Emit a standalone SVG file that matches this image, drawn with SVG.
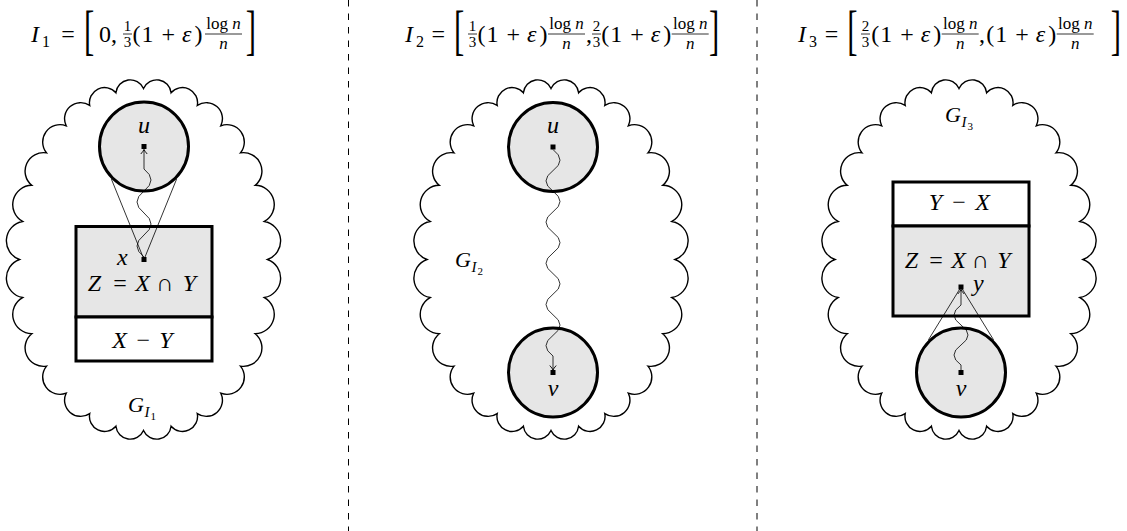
<svg xmlns="http://www.w3.org/2000/svg" width="1127" height="531" viewBox="0 0 1127 531">
<style>
.t{font-family:"Liberation Serif","DejaVu Serif",serif;fill:#000}
.i{font-style:italic}
.f{font-size:24px}
.br{font-size:22px}
.s{font-size:16px}
.q{font-size:17px}
.r{font-size:15px}
.l{font-size:24px}
.gl{font-size:22px}
.g1{font-size:15px}
.g2{font-size:11px}
.cloud{fill:none;stroke:#000;stroke-width:1.4}
.nd{fill:#e6e6e6;stroke:#000;stroke-width:3}
.nw{fill:#fff;stroke:#000;stroke-width:3}
.pt{fill:#000}
.thin{fill:none;stroke:#000;stroke-width:0.8}
.snake{fill:none;stroke:#000;stroke-width:0.8;marker-end:url(#arr)}
.bar{stroke:#000;stroke-width:0.8}
.div{stroke:#000;stroke-width:1;stroke-dasharray:6.5 7}
</style>
<defs>
<path id="cloudshape" d="M124,0 A19.76,19.76 0 0 1 120.89,38.05 A19.3,19.3 0 0 1 111.72,74.19 A18.45,18.45 0 0 1 96.95,106.62 A17.31,17.31 0 0 1 77.31,133.69 A16.1,16.1 0 0 1 53.8,154.07 A15.06,15.06 0 0 1 27.59,166.71 A14.45,14.45 0 0 1 0,171 A14.45,14.45 0 0 1 -27.59,166.71 A15.06,15.06 0 0 1 -53.8,154.07 A16.1,16.1 0 0 1 -77.31,133.69 A17.31,17.31 0 0 1 -96.95,106.62 A18.45,18.45 0 0 1 -111.72,74.19 A19.3,19.3 0 0 1 -120.89,38.05 A19.76,19.76 0 0 1 -124,0 A19.76,19.76 0 0 1 -120.89,-38.05 A19.3,19.3 0 0 1 -111.72,-74.19 A18.45,18.45 0 0 1 -96.95,-106.62 A17.31,17.31 0 0 1 -77.31,-133.69 A16.1,16.1 0 0 1 -53.8,-154.07 A15.06,15.06 0 0 1 -27.59,-166.71 A14.45,14.45 0 0 1 0,-171 A14.45,14.45 0 0 1 27.59,-166.71 A15.06,15.06 0 0 1 53.8,-154.07 A16.1,16.1 0 0 1 77.31,-133.69 A17.31,17.31 0 0 1 96.95,-106.62 A18.45,18.45 0 0 1 111.72,-74.19 A19.3,19.3 0 0 1 120.89,-38.05 A19.76,19.76 0 0 1 124,0 Z"/>
<marker id="arr" viewBox="-6 -5 7 10" markerWidth="7" markerHeight="10" refX="0" refY="0" orient="auto" markerUnits="userSpaceOnUse">
<path d="M-4.5,-3.2 Q-1.5,-0.6 0,0 Q-1.5,0.6 -4.5,3.2" fill="none" stroke="#000" stroke-width="0.9"/>
</marker>
<g id="pe" class="t f"><text y="41.5" text-anchor="middle"><tspan x="3.5">(</tspan><tspan x="14.5">1</tspan><tspan x="35.3">+</tspan><tspan x="53.7" class="i">ε</tspan><tspan x="65.5">)</tspan></text></g>
<g id="lf"><text class="t q" x="18.5" y="29" text-anchor="middle">log <tspan class="i">n</tspan></text><line class="bar" x1="0" y1="34" x2="37" y2="34"/><text class="t q i" x="18.5" y="48.5" text-anchor="middle">n</text></g>
</defs>
<rect x="0" y="0" width="1127" height="531" fill="#fff"/>

<g id="dividers">
<line class="div" x1="348.5" y1="0" x2="348.5" y2="531"/>
<line class="div" x1="757" y1="0" x2="757" y2="531"/>
</g>

<g id="formula1">
<text class="t i f" x="31" y="41.5">I</text>
<text class="t s" x="42" y="46.5">1</text>
<text class="t f" x="68" y="41.5" text-anchor="middle">=</text>
<text class="t br" transform="translate(84,35) scale(1.4,2.45)" y="5.6">[</text>
<text class="t f" x="99" y="41.5">0,</text>
<text class="t r" x="127.5" y="31" text-anchor="middle">1</text>
<line class="bar" x1="123" y1="34" x2="132" y2="34"/>
<text class="t r" x="127.5" y="47" text-anchor="middle">3</text>
<use href="#pe" x="133"/>
<use href="#lf" x="205"/>
<text class="t br" transform="translate(245.7,35) scale(1.4,2.45)" y="5.6">]</text>
</g>

<g id="formula2">
<text class="t i f" x="405" y="41.5">I</text>
<text class="t s" x="416" y="46.5">2</text>
<text class="t f" x="438.3" y="41.5" text-anchor="middle">=</text>
<text class="t br" transform="translate(454,35) scale(1.4,2.45)" y="5.6">[</text>
<text class="t r" x="472.5" y="31" text-anchor="middle">1</text>
<line class="bar" x1="468" y1="34" x2="477" y2="34"/>
<text class="t r" x="472.5" y="47" text-anchor="middle">3</text>
<use href="#pe" x="478"/>
<use href="#lf" x="548"/>
<text class="t f" x="586" y="41.5">,</text>
<text class="t r" x="596.5" y="31" text-anchor="middle">2</text>
<line class="bar" x1="592" y1="34" x2="601" y2="34"/>
<text class="t r" x="596.5" y="47" text-anchor="middle">3</text>
<use href="#pe" x="601.7"/>
<use href="#lf" x="671.7"/>
<text class="t br" transform="translate(709,35) scale(1.4,2.45)" y="5.6">]</text>
</g>

<g id="formula3">
<text class="t i f" x="798" y="41.5">I</text>
<text class="t s" x="809" y="46.5">3</text>
<text class="t f" x="831.5" y="41.5" text-anchor="middle">=</text>
<text class="t br" transform="translate(847.3,35) scale(1.4,2.45)" y="5.6">[</text>
<text class="t r" x="865.5" y="31" text-anchor="middle">2</text>
<line class="bar" x1="861" y1="34" x2="870" y2="34"/>
<text class="t r" x="865.5" y="47" text-anchor="middle">3</text>
<use href="#pe" x="871.7"/>
<use href="#lf" x="941.7"/>
<text class="t f" x="979" y="41.5">,</text>
<use href="#pe" x="986.7"/>
<use href="#lf" x="1056.7"/>
<text class="t br" transform="translate(1110.7,35) scale(1.4,2.45)" y="5.6">]</text>
</g>

<g id="cloud1"><use href="#cloudshape" x="143.5" y="259.5" class="cloud"/>
<text class="t i gl" x="128" y="411.5">G</text><text class="t i g1" x="144.5" y="416.5">I</text><text class="t g2" x="150.5" y="419.5">1</text></g>
<g id="cloud2"><use href="#cloudshape" x="551" y="259.5" class="cloud"/>
<text class="t i gl" x="455" y="266.5">G</text><text class="t i g1" x="471.5" y="271.5">I</text><text class="t g2" x="477.5" y="274.5">2</text></g>
<g id="cloud3"><use href="#cloudshape" x="959" y="259.5" class="cloud"/>
<text class="t i gl" x="945" y="121.5">G</text><text class="t i g1" x="961.5" y="126.5">I</text><text class="t g2" x="967.5" y="129.5">3</text></g>

<g id="p1-u">
<circle class="nd" cx="144" cy="146.5" r="44.5"/>
<text class="t i l" x="144" y="133" text-anchor="middle">u</text>
<rect class="pt" x="141.5" y="144" width="5" height="5"/>
</g>
<g id="p1-Z">
<rect class="nd" x="76" y="226.5" width="136" height="90.5"/>
<text class="t l" y="290.5" text-anchor="middle"><tspan x="94.5" class="i">Z</tspan><tspan x="120">=</tspan><tspan x="142.5" class="i">X</tspan><tspan x="165">∩</tspan><tspan x="189.5" class="i">Y</tspan></text>
<text class="t i l" x="117" y="265">x</text>
<rect class="pt" x="141.5" y="257" width="5" height="5"/>
</g>
<g id="p1-XminusY">
<rect class="nw" x="76" y="317" width="136" height="44"/>
<text class="t l" y="348" text-anchor="middle"><tspan x="119.5" class="i">X</tspan><tspan x="143.3">−</tspan><tspan x="166" class="i">Y</tspan></text>
</g>

<g id="p2-u">
<circle class="nd" cx="553" cy="147" r="44.5"/>
<text class="t i l" x="553" y="133" text-anchor="middle">u</text>
<rect class="pt" x="550.5" y="144.5" width="5" height="5"/>
</g>
<g id="p2-v">
<circle class="nd" cx="553" cy="372.5" r="44.5"/>
<text class="t i l" x="553" y="396" text-anchor="middle">v</text>
<rect class="pt" x="550.5" y="370" width="5" height="5"/>
</g>

<g id="p3-YminusX">
<rect class="nw" x="893" y="182" width="136" height="44"/>
<text class="t l" y="210" text-anchor="middle"><tspan x="935.5" class="i">Y</tspan><tspan x="959">−</tspan><tspan x="982.5" class="i">X</tspan></text>
</g>
<g id="p3-Z">
<rect class="nd" x="893" y="226" width="136" height="90"/>
<text class="t l" y="267.5" text-anchor="middle"><tspan x="911.5" class="i">Z</tspan><tspan x="936">=</tspan><tspan x="958.5" class="i">X</tspan><tspan x="980.5">∩</tspan><tspan x="1004" class="i">Y</tspan></text>
<text class="t i l" x="973" y="291">y</text>
<rect class="pt" x="958.5" y="284.5" width="5" height="5"/>
</g>
<g id="p3-v">
<circle class="nd" cx="961" cy="372.5" r="44.5"/>
<text class="t i l" x="961" y="396" text-anchor="middle">v</text>
<rect class="pt" x="958.5" y="370" width="5" height="5"/>
</g>

<g id="connectors">
<line class="thin" x1="144" y1="259.5" x2="111.4" y2="179.1"/>
<line class="thin" x1="144" y1="259.5" x2="176.6" y2="179.1"/>
<path class="snake" d="M144,257 Q130,246 144,235 T144,213 T144,191 T144,169 L144,149.5"/>
<path class="snake" d="M553,149.5 Q567,160.3 553,170.6 T553,191.2 T553,211.8 T553,232.4 T553,253 T553,273.6 T553,294.2 T553,314.8 T553,335.4 T553,356 L553,370"/>
<line class="thin" x1="961" y1="287" x2="928.4" y2="339.9"/>
<line class="thin" x1="961" y1="287" x2="993.6" y2="339.9"/>
<path class="snake" d="M961,370 L961,365 Q947,355 961,345 T961,325 T961,305 L961,289.5"/>
</g>
</svg>
